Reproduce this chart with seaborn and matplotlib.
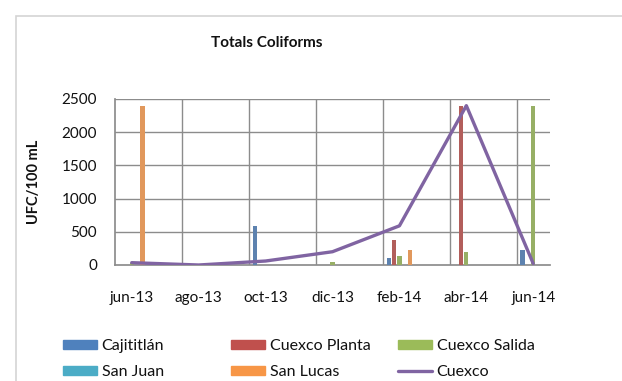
import numpy as np
import pandas as pd
import matplotlib
matplotlib.use("Agg")
import matplotlib.pyplot as plt
from matplotlib.patches import Rectangle
from matplotlib.lines import Line2D
import seaborn as sns

# Monthly sampling calendar
months = ["jun-13", "jul-13", "ago-13", "sep-13", "oct-13", "nov-13", "dic-13",
          "ene-14", "feb-14", "mar-14", "abr-14", "may-14", "jun-14"]
tick_labels = ["jun-13", "ago-13", "oct-13", "dic-13", "feb-14", "abr-14", "jun-14"]

# Total coliforms per site (UFC/100 mL); NaN = not sampled
cajititlan     = [np.nan, np.nan, np.nan, np.nan, 580, np.nan, np.nan, np.nan, 100, np.nan, np.nan, np.nan, 220]
cuexco_planta  = [np.nan, np.nan, np.nan, np.nan, np.nan, np.nan, np.nan, np.nan, 380, np.nan, 2400, np.nan, np.nan]
cuexco_salida  = [30, np.nan, np.nan, np.nan, np.nan, np.nan, 50, np.nan, 130, np.nan, 200, np.nan, 2400]
san_juan       = [np.nan] * 13
san_lucas      = [2400, np.nan, np.nan, np.nan, np.nan, np.nan, np.nan, np.nan, 220, np.nan, np.nan, np.nan, np.nan]

# Cuexco series drawn as a line
cuexco_months = ["jun-13", "ago-13", "oct-13", "dic-13", "feb-14", "abr-14", "jun-14"]
cuexco_values = [35, 0, 60, 200, 590, 2400, 20]

sites = ["Cajititlán", "Cuexco Planta", "Cuexco Salida", "San Juan", "San Lucas"]
colors = ["#4F81BD", "#C0504D", "#9BBB59", "#4BACC6", "#F79646"]
line_color = "#8064A2"

bars = pd.DataFrame({
    "mes": months * 5,
    "sitio": np.repeat(sites, len(months)),
    "valor": cajititlan + cuexco_planta + cuexco_salida + san_juan + san_lucas,
}).dropna()

sns.set_theme(style="white")
plt.rcParams["font.family"] = ["Lato", "DejaVu Sans"]

fig = plt.figure(figsize=(6.22, 3.81), dpi=100)
fig.patch.set_facecolor("white")

# Chart frame
fig.patches.append(Rectangle((16 / 622, -0.1), 1.0, 1 - 16 / 381 + 0.1,
                             transform=fig.transFigure, fill=False,
                             edgecolor="#D4D4D4", linewidth=1.2))

ax = fig.add_axes([115 / 622, 1 - 265 / 381, 435 / 622, 166 / 381])
ax.set_axisbelow(True)

# Gridlines: horizontal at each major tick, vertical between every second month
for yv in range(500, 2501, 500):
    ax.axhline(yv, color="#8C8C8C", linewidth=1.0, zorder=0)
for xv in np.arange(1.5, len(months) - 1, 2):
    ax.axvline(xv, color="#8C8C8C", linewidth=1.0, zorder=0)

sns.barplot(data=bars, x="mes", y="valor", hue="sitio", order=months,
            hue_order=sites, palette=colors, width=0.8, gap=0.2,
            errorbar=None, legend=False, ax=ax, zorder=3, linewidth=0)

pos = [months.index(m) for m in cuexco_months]
sns.lineplot(x=pos, y=cuexco_values, color=line_color, linewidth=2.4,
             ax=ax, zorder=4)

ax.set_xlim(-0.5, len(months) - 0.5)
ax.set_ylim(0, 2500)
ax.set_yticks(range(0, 2501, 500))
ax.set_xticks(range(0, len(months), 2))
ax.set_xticklabels(tick_labels)
ax.tick_params(axis="both", labelsize=11, colors="#111111", length=0)
ax.tick_params(axis="y", pad=13)
ax.tick_params(axis="x", pad=19)
ax.set_xlabel("")
ax.set_ylabel("UFC/100 mL", fontsize=10.5, fontweight="bold", color="#111111", labelpad=15)

for side in ["top", "right"]:
    ax.spines[side].set_visible(False)
ax.spines["left"].set_color("#8C8C8C")
ax.spines["bottom"].set_color("#8C8C8C")

fig.text(267 / 622, 1 - 43 / 381, "Totals Coliforms", ha="center", va="center",
         fontsize=11, fontweight="bold", color="#111111")

# Legend laid out as three equal-width columns
handles = [Rectangle((0, 0), 1, 1, color=c) for c in colors]
line_handle = Line2D([0], [0], color=line_color, linewidth=2.4)
columns = [
    ([handles[0], handles[3]], [sites[0], sites[3]]),
    ([handles[1], handles[4]], [sites[1], sites[4]]),
    ([handles[2], line_handle], [sites[2], "Cuexco"]),
]
col_x = [49, 217, 384]
for (hs, ls), x0 in zip(columns, col_x):
    fig.legend(hs, ls, ncol=1, loc="center left",
               bbox_to_anchor=(x0 / 622, 1 - 359 / 381), frameon=False,
               fontsize=11.5, handlelength=2.1, handleheight=0.45,
               labelspacing=0.75, handletextpad=0.3, labelcolor="#111111")

fig.savefig("out.png", dpi=100, facecolor="white")
